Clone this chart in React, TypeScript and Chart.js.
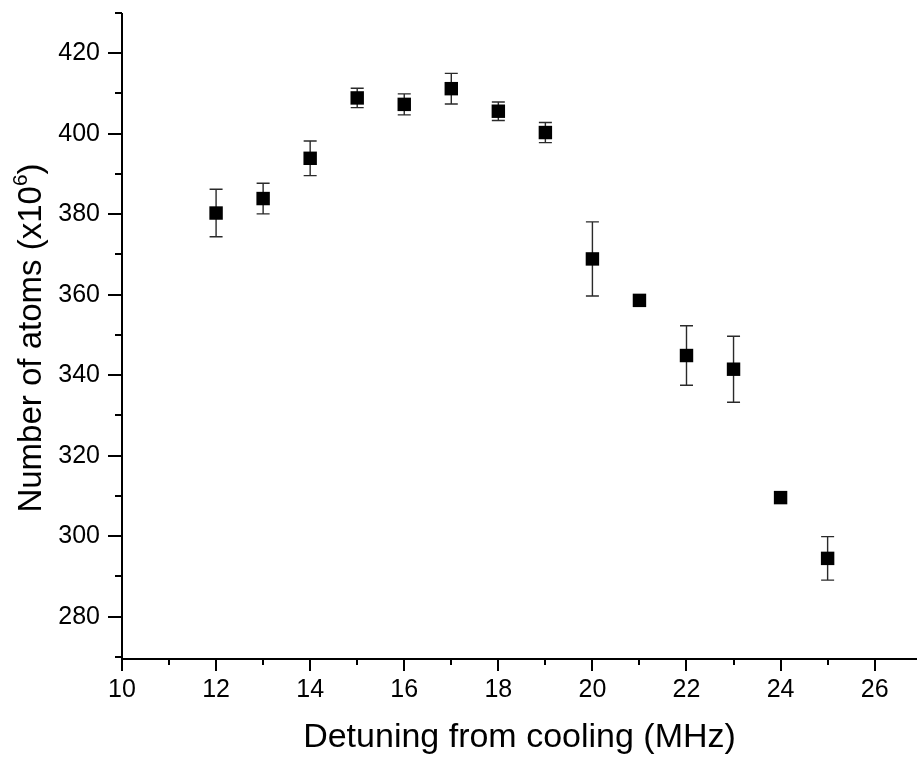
import React, { useEffect, useRef } from "react";
import { Chart, registerables } from "chart.js";

Chart.register(...registerables);

const detuning = [12, 13, 14, 15, 16, 17, 18, 19, 20, 21, 22, 23, 24, 25];
const atoms = [380.3, 383.9, 393.9, 408.9, 407.3, 411.2, 405.6, 400.3, 368.9, 358.6, 344.9, 341.5, 309.6, 294.5];
const atomErrors = [5.9, 3.8, 4.3, 2.4, 2.6, 3.8, 2.3, 2.5, 9.2, 0, 7.4, 8.2, 0, 5.4];

const xMajorTicks = [10, 12, 14, 16, 18, 20, 22, 24, 26];
const xMinorTicks = [11, 13, 15, 17, 19, 21, 23, 25];
const yMajorTicks = [280, 300, 320, 340, 360, 380, 400, 420];
const yMinorTicks = [270, 290, 310, 330, 350, 370, 390, 410, 430];

const xTitle = "Detuning from cooling (MHz)";
const yTitleMain = "Number of atoms (x10";
const yTitleSup = "6";
const yTitleEnd = ")";

const FONT = '"Liberation Sans", Arial, Helvetica, sans-serif';

export default function App() {
  const ref = useRef<HTMLCanvasElement>(null);

  useEffect(() => {
    document.body.style.margin = "0";
    const canvas = ref.current;
    if (!canvas) return;

    const errorBars = {
      id: "errorBars",
      beforeDatasetsDraw(chart: any) {
        const { ctx, scales } = chart;
        const xs = scales.x;
        const ys = scales.y;
        ctx.save();
        ctx.strokeStyle = "#2a2a2a";
        ctx.lineWidth = 1.4;
        detuning.forEach((xv, i) => {
          const e = atomErrors[i];
          if (!e) return;
          const px = xs.getPixelForValue(xv);
          const top = ys.getPixelForValue(atoms[i] + e);
          const bot = ys.getPixelForValue(atoms[i] - e);
          ctx.beginPath();
          ctx.moveTo(px, top);
          ctx.lineTo(px, bot);
          ctx.moveTo(px - 6.5, top);
          ctx.lineTo(px + 6.5, top);
          ctx.moveTo(px - 6.5, bot);
          ctx.lineTo(px + 6.5, bot);
          ctx.stroke();
        });
        ctx.restore();
      },
    };

    const axes = {
      id: "axesDraw",
      afterDraw(chart: any) {
        const { ctx, chartArea, scales } = chart;
        const xs = scales.x;
        const ys = scales.y;
        const { left, right, top, bottom } = chartArea;
        ctx.save();
        ctx.strokeStyle = "#000";
        ctx.lineWidth = 2;
        ctx.lineCap = "butt";
        ctx.beginPath();
        ctx.moveTo(left, top);
        ctx.lineTo(left, bottom + 1);
        ctx.moveTo(left - 1, bottom);
        ctx.lineTo(right, bottom);
        xMajorTicks.forEach((v) => {
          const p = Math.round(xs.getPixelForValue(v));
          ctx.moveTo(p, bottom);
          ctx.lineTo(p, bottom + 12);
        });
        xMinorTicks.forEach((v) => {
          const p = Math.round(xs.getPixelForValue(v));
          ctx.moveTo(p, bottom);
          ctx.lineTo(p, bottom + 6);
        });
        yMajorTicks.forEach((v) => {
          const p = Math.round(ys.getPixelForValue(v));
          ctx.moveTo(left, p);
          ctx.lineTo(left - 14, p);
        });
        yMinorTicks.forEach((v) => {
          const p = Math.round(ys.getPixelForValue(v));
          ctx.moveTo(left, p);
          ctx.lineTo(left - 7, p);
        });
        ctx.stroke();

        const cy = (top + bottom) / 2 + 2;
        ctx.translate(41, cy);
        ctx.rotate(-Math.PI / 2);
        ctx.fillStyle = "#000";
        ctx.textBaseline = "alphabetic";
        ctx.textAlign = "left";
        const mainFont = `33px ${FONT}`;
        const supFont = `21px ${FONT}`;
        ctx.font = mainFont;
        const w1 = ctx.measureText(yTitleMain).width;
        const w3 = ctx.measureText(yTitleEnd).width;
        ctx.font = supFont;
        const w2 = ctx.measureText(yTitleSup).width;
        const total = w1 + w2 + w3;
        let x0 = -total / 2;
        ctx.font = mainFont;
        ctx.fillText(yTitleMain, x0, 0);
        x0 += w1;
        ctx.font = supFont;
        ctx.fillText(yTitleSup, x0, -14);
        x0 += w2;
        ctx.font = mainFont;
        ctx.fillText(yTitleEnd, x0, 0);
        ctx.restore();
      },
    };

    const chart = new Chart(canvas, {
      type: "scatter",
      data: {
        datasets: [
          {
            data: detuning.map((x, i) => ({ x, y: atoms[i] })),
            pointStyle: "rect",
            pointRadius: 9.5,
            pointHoverRadius: 9.5,
            backgroundColor: "#000",
            borderColor: "#000",
            borderWidth: 0,
            showLine: false,
          },
        ],
      },
      plugins: [errorBars, axes],
      options: {
        responsive: false,
        animation: false,
        devicePixelRatio: 1,
        layout: { autoPadding: false, padding: { top: 13, left: 0, right: 0, bottom: 0 } },
        plugins: {
          legend: { display: false },
          tooltip: { enabled: false },
        },
        scales: {
          x: {
            type: "linear",
            min: 10,
            max: 26.9,
            afterBuildTicks: (s: any) => {
              s.ticks = xMajorTicks.map((value) => ({ value }));
            },
            afterFit: (s: any) => {
              s.height = 103;
              s.paddingLeft = 0;
              s.paddingRight = 0;
              s.paddingTop = 0;
              s.paddingBottom = 0;
            },
            grid: { display: false, drawTicks: false },
            border: { display: false },
            ticks: {
              color: "#000",
              font: { family: FONT, size: 25 },
              padding: 16,
              autoSkip: false,
              maxRotation: 0,
            },
            title: {
              display: true,
              text: xTitle,
              color: "#000",
              font: { family: FONT, size: 34 },
              padding: { top: 0, bottom: 4 },
            },
          },
          y: {
            type: "linear",
            min: 269.5,
            max: 430,
            afterBuildTicks: (s: any) => {
              s.ticks = yMajorTicks.map((value) => ({ value }));
            },
            afterFit: (s: any) => {
              s.width = 122;
              s.paddingLeft = 0;
              s.paddingRight = 0;
              s.paddingTop = 0;
              s.paddingBottom = 0;
            },
            grid: { display: false, drawTicks: false },
            border: { display: false },
            ticks: {
              color: "#000",
              font: { family: FONT, size: 25 },
              padding: 22,
              autoSkip: false,
            },
          },
        },
      },
    });

    return () => chart.destroy();
  }, []);

  return (
    <div style={{ width: 917, height: 762, background: "#fff" }}>
      <canvas ref={ref} width={917} height={762} style={{ display: "block" }} />
    </div>
  );
}
